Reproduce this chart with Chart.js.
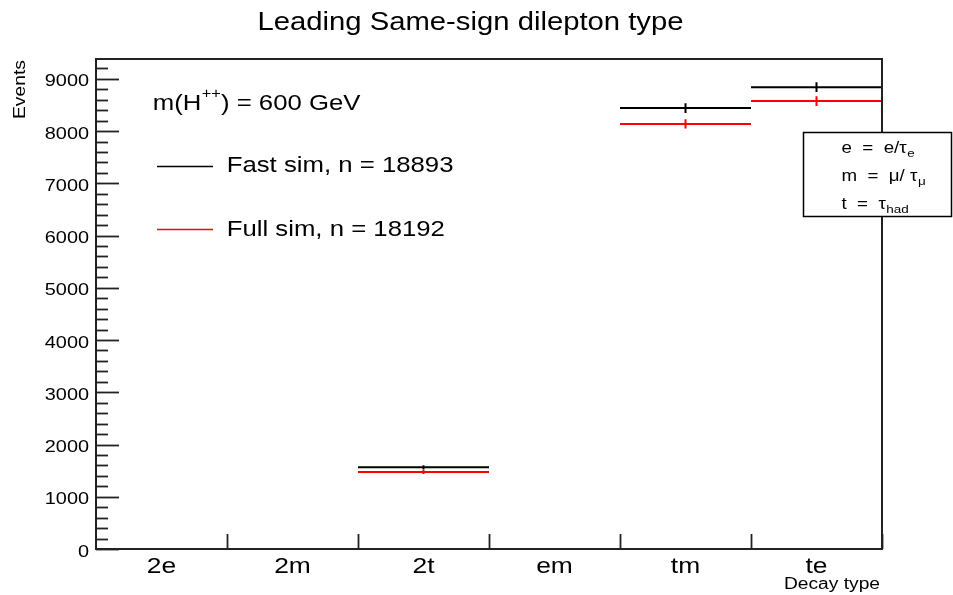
<!DOCTYPE html>
<html>
<head>
<meta charset="utf-8">
<title>Leading Same-sign dilepton type</title>
<script src="https://cdn.jsdelivr.net/npm/chart.js@4/dist/chart.umd.min.js"></script>
<style>
    html, body { margin: 0; padding: 0; background: #fff; }
    canvas { display: block; }
</style>
</head>
<body>
<canvas id="chart" width="953" height="595"></canvas>
<script>
// ===== DATA =====
const categories = ["2e", "2m", "2t", "em", "tm", "te"];
const fastSim = [0, 0, 1563, 0, 8440, 8840];
const fullSim = [0, 0, 1472, 0, 8138, 8575];
const yMax = 9380;
const yMajor = [0, 1000, 2000, 3000, 4000, 5000, 6000, 7000, 8000, 9000];
const yMinorStep = 200;

const FONT = '"Liberation Sans", Arial, Helvetica, sans-serif';
const STRETCH = 1.17;

// ===== HIST -> LINE SEGMENTS =====
function binSegments(values) {
    const pts = [];
    values.forEach((v, i) => {
        if (v <= 0) return;
        pts.push({ x: i, y: v }, { x: i + 1, y: v }, { x: i + 1, y: null });
    });
    return pts;
}

function errorBars(values) {
    const pts = [];
    values.forEach((v, i) => {
        if (v <= 0) return;
        const e = Math.sqrt(v);
        pts.push({ x: i + 0.5, y: v - e }, { x: i + 0.5, y: v + e }, { x: i + 0.5, y: null });
    });
    return pts;
}

function lineSet(data, color) {
    return {
        data: data,
        borderColor: color,
        borderWidth: 2,
        pointRadius: 0,
        fill: false,
        spanGaps: false,
        tension: 0
    };
}

// ===== TEXT HELPER (ROOT fonts look wider) =====
function text(ctx, s, x, y, size, align, sx) {
    sx = sx || STRETCH;
    ctx.save();
    ctx.font = size + "px " + FONT;
    ctx.fillStyle = "#000";
    ctx.textBaseline = "alphabetic";
    ctx.textAlign = "left";
    const w = ctx.measureText(s).width * sx;
    let x0 = x;
    if (align === "center") x0 = x - w / 2;
    if (align === "right") x0 = x - w;
    ctx.translate(x0, y);
    ctx.scale(sx, 1);
    ctx.fillText(s, 0, 0);
    ctx.restore();
    return x0 + w;
}

// ===== FRAME, AXES, LABELS =====
const rootStyle = {
    id: "rootStyle",
    afterDatasetsDraw(chart) {
        const ctx = chart.ctx;
        const xs = chart.scales.x;
        const ys = chart.scales.y;
        const a = chart.chartArea;

        ctx.save();
        ctx.strokeStyle = "#222";
        ctx.lineWidth = 2;
        ctx.strokeRect(a.left, a.top, a.right - a.left, a.bottom - a.top);

        // y ticks (inside): minor every 200, major with labels
        ctx.lineWidth = 1.8;
        for (let v = 0; v <= yMax; v += yMinorStep) {
            const y = Math.round(ys.getPixelForValue(v)) + 0.5;
            const major = yMajor.includes(v);
            ctx.beginPath();
            ctx.moveTo(a.left, y);
            ctx.lineTo(a.left + (major ? 23 : 12), y);
            ctx.stroke();
        }
        yMajor.forEach(v => {
            text(ctx, String(v), 89, ys.getPixelForValue(v) + 7.5, 17, "right");
        });

        // x ticks on bin edges
        for (let i = 1; i <= categories.length; i++) {
            const x = Math.round(xs.getPixelForValue(i)) + 0.5;
            ctx.beginPath();
            ctx.moveTo(x, a.bottom);
            ctx.lineTo(x, a.bottom - 15);
            ctx.stroke();
        }
        categories.forEach((c, i) => {
            text(ctx, c, xs.getPixelForValue(i + 0.5), 573, 22, "center", 1.2);
        });
        ctx.restore();

        // axis titles
        text(ctx, "Decay type", 880, 589, 16, "right", 1.2);
        ctx.save();
        ctx.translate(25, 60);
        ctx.rotate(-Math.PI / 2);
        text(ctx, "Events", 0, 0, 16.5, "right");
        ctx.restore();

        // title
        text(ctx, "Leading Same-sign dilepton type", 470.5, 29.5, 25, "center");

        // legend
        let x = text(ctx, "m(H", 152.7, 110, 22, "left");
        x = text(ctx, "++", x + 0.5, 98, 14, "left");
        text(ctx, ") = 600 GeV", x, 110, 22, "left");

        ctx.save();
        ctx.lineWidth = 1.5;
        ctx.strokeStyle = "#000";
        ctx.beginPath();
        ctx.moveTo(157, 166.5);
        ctx.lineTo(213, 166.5);
        ctx.stroke();
        ctx.strokeStyle = "#ff0000";
        ctx.beginPath();
        ctx.moveTo(157, 229.5);
        ctx.lineTo(213, 229.5);
        ctx.stroke();
        ctx.restore();
        text(ctx, "Fast sim, n = 18893", 226.7, 172, 22, "left");
        text(ctx, "Full sim, n = 18192", 226.7, 236, 22, "left");

        // decay key box
        ctx.save();
        ctx.fillStyle = "#fff";
        ctx.fillRect(803, 132, 149, 85);
        ctx.strokeStyle = "#000";
        ctx.lineWidth = 1.5;
        ctx.strokeRect(803.5, 132.5, 148, 84);
        ctx.restore();

        x = text(ctx, "e  =  e/\u03c4", 841.5, 153, 16, "left");
        text(ctx, "e", x + 0.5, 157, 11.5, "left");
        x = text(ctx, "m  =  \u03bc/ \u03c4", 841.5, 180.5, 16, "left");
        text(ctx, "\u03bc", x + 0.5, 185, 11.5, "left");
        x = text(ctx, "t  =  \u03c4", 841.5, 208.5, 16, "left");
        text(ctx, "had", x + 0.5, 213, 11.5, "left");
    }
};

// ===== CHART =====
new Chart(document.getElementById("chart"), {
    type: "line",
    data: {
        datasets: [
            lineSet(binSegments(fastSim), "#000000"),
            lineSet(errorBars(fastSim), "#000000"),
            lineSet(binSegments(fullSim), "#ff0000"),
            lineSet(errorBars(fullSim), "#ff0000")
        ]
    },
    options: {
        responsive: false,
        animation: false,
        layout: { padding: { left: 96, top: 59, right: 71, bottom: 46 } },
        plugins: {
            legend: { display: false },
            tooltip: { enabled: false },
            title: { display: false }
        },
        scales: {
            x: { type: "linear", min: 0, max: categories.length, display: false },
            y: { type: "linear", min: 0, max: yMax, display: false }
        }
    },
    plugins: [rootStyle]
});
</script>
</body>
</html>
